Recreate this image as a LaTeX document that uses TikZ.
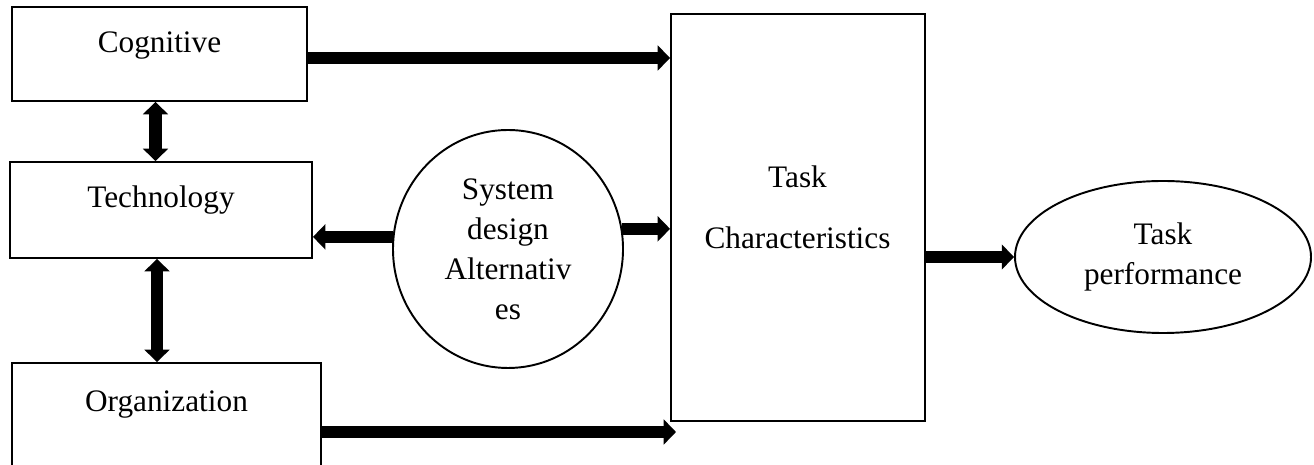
\documentclass[tikz,border=0pt]{standalone}
\usepackage{fontspec}
\setmainfont{Liberation Serif}
\usetikzlibrary{shapes.geometric,arrows.meta}

\begin{document}
\begin{tikzpicture}[
  every node/.style={font=\fontsize{17.8}{22.8}\selectfont},
  box/.style={draw,line width=1.1pt,rectangle,inner sep=0pt},
  oval/.style={draw,line width=1.1pt,ellipse,inner sep=0pt,align=center},
  fat/.style={line width=7.2pt,-{Triangle[width=14pt,length=7pt]}},
  fatboth/.style={line width=7.2pt,{Triangle[width=14pt,length=7pt]}-{Triangle[width=14pt,length=7pt]}}
]
\useasboundingbox (0,0) rectangle (26.28,9.3);
\clip (0,0) rectangle (26.28,9.3);
% left column
\node[box,minimum width=5.9cm,minimum height=1.88cm] (cog) at (3.19,8.22) {};
\node (cogText) at (3.19,8.38) {Cognitive};
\node[box,minimum width=6.04cm,minimum height=1.92cm] (tech) at (3.22,5.10) {};
\node (techText) at (3.22,5.3) {Technology};
\node[box,minimum width=6.18cm,minimum height=2.8cm] (org) at (3.33,0.64) {};
\node (orgText) at (3.33,1.2) {Organization};
% middle and right
\node[oval,minimum width=4.6cm,minimum height=4.76cm] (sda) at (10.16,4.32) {System\\design\\Alternativ\\es};
\node[box,minimum width=5.08cm,minimum height=8.14cm] (task) at (15.96,4.95) {};
\node[align=center] (taskText) at (15.95,5.15) {Task\\[12pt]Characteristics};
\node[oval,minimum width=5.92cm,minimum height=3.04cm] (perf) at (23.26,4.16) {Task\\performance};
\coordinate (cogOut) at (6.14,8.14);
\coordinate (orgEnd) at (13.52,0.66);
% connectors
\draw[fat] (cogOut) -- (cogOut -| task.west);
\draw[fatboth] ([xshift=-0.08cm]cog.south) -- ([xshift=-0.08cm]cog.south |- tech.north);
\draw[fatboth] ([xshift=-0.08cm]tech.south) -- ([xshift=-0.08cm]tech.south |- org.north);
\draw[fat] (sda.174) -- (sda.174 -| tech.east);
\draw[fat] (sda.10) -- (sda.10 -| task.west);
\draw[fat] (org.east |- orgEnd) -- (orgEnd);
\draw[fat] (task.east |- perf.west) -- (perf.west);
\end{tikzpicture}
\end{document}
